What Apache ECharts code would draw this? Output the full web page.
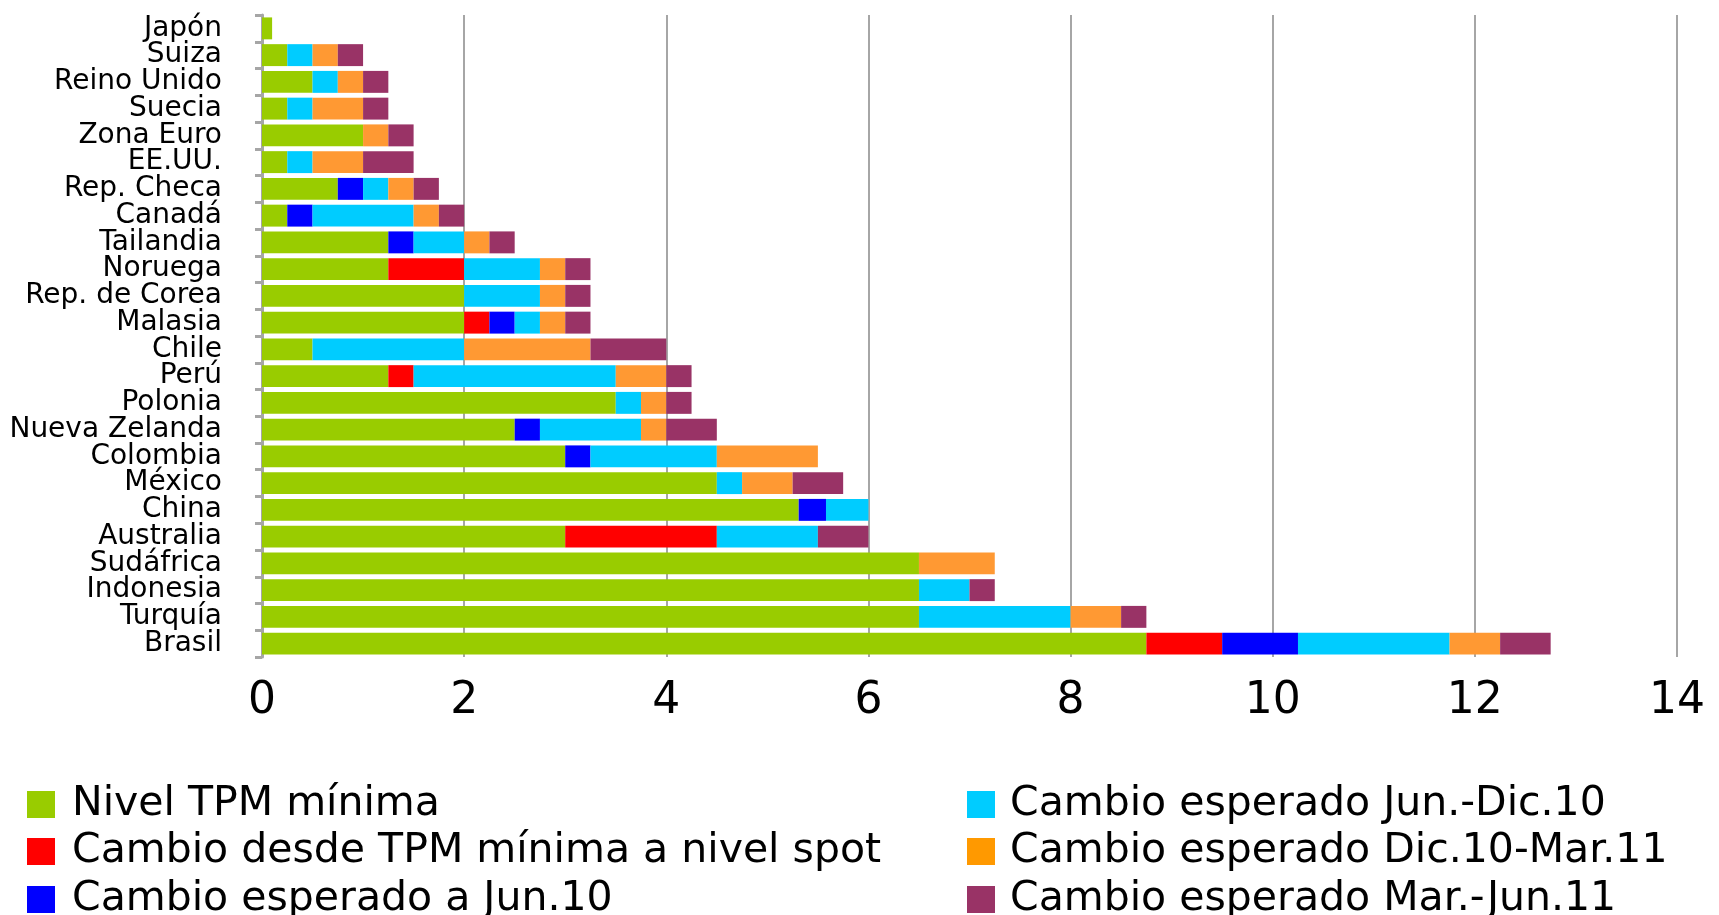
<!DOCTYPE html>
<html>
<head>
<meta charset="utf-8">
<script src="https://cdn.jsdelivr.net/npm/echarts@6/dist/echarts.min.js"></script>
<style>
  html, body { margin: 0; padding: 0; background: #ffffff; }
  #chart { width: 1719px; height: 915px; }
</style>
</head>
<body>
<div id="chart"></div>
<script>
// Countries, top to bottom
const countries = ['Japón', 'Suiza', 'Reino Unido', 'Suecia', 'Zona Euro', 'EE.UU.', 'Rep. Checa', 'Canadá',
  'Tailandia', 'Noruega', 'Rep. de Corea', 'Malasia', 'Chile', 'Perú', 'Polonia', 'Nueva Zelanda',
  'Colombia', 'México', 'China', 'Australia', 'Sudáfrica', 'Indonesia', 'Turquía', 'Brasil'];

// Policy rate components (percentage points)
const nivelMinimo  = [0.1, 0.25, 0.5, 0.25, 1.0, 0.25, 0.75, 0.25, 1.25, 1.25, 2.0, 2.0, 0.5, 1.25, 3.5, 2.5, 3.0, 4.5, 5.31, 3.0, 6.5, 6.5, 6.5, 8.75];
const cambioSpot   = [0, 0, 0, 0, 0, 0, 0, 0, 0, 0.75, 0, 0.25, 0, 0.25, 0, 0, 0, 0, 0, 1.5, 0, 0, 0, 0.75];
const cambioJun10  = [0, 0, 0, 0, 0, 0, 0.25, 0.25, 0.25, 0, 0, 0.25, 0, 0, 0, 0.25, 0.25, 0, 0.27, 0, 0, 0, 0, 0.75];
const cambioJunDic = [0, 0.25, 0.25, 0.25, 0, 0.25, 0.25, 1.0, 0.5, 0.75, 0.75, 0.25, 1.5, 2.0, 0.25, 1.0, 1.25, 0.25, 0.42, 1.0, 0, 0.5, 1.5, 1.5];
const cambioDicMar = [0, 0.25, 0.25, 0.5, 0.25, 0.5, 0.25, 0.25, 0.25, 0.25, 0.25, 0.25, 1.25, 0.5, 0.25, 0.25, 1.0, 0.5, 0, 0, 0.75, 0, 0.5, 0.5];
const cambioMarJun = [0, 0.25, 0.25, 0.25, 0.25, 0.5, 0.25, 0.25, 0.25, 0.25, 0.25, 0.25, 0.75, 0.25, 0.25, 0.5, 0, 0.5, 0, 0.5, 0, 0.25, 0.25, 0.5];

const seriesNames = ['Nivel TPM mínima', 'Cambio desde TPM mínima a nivel spot', 'Cambio esperado a Jun.10',
  'Cambio esperado Jun.-Dic.10', 'Cambio esperado Dic.10-Mar.11', 'Cambio esperado Mar.-Jun.11'];
const seriesData = [nivelMinimo, cambioSpot, cambioJun10, cambioJunDic, cambioDicMar, cambioMarJun];
const colors = ['#99CC00', '#FF0000', '#0000FF', '#00CCFF', '#FF9933', '#993366'];
const legendColors = ['#99CC00', '#FF0000', '#0000FF', '#00CCFF', '#FF9900', '#993366'];

const FONT = 'DejaVu Sans';
const chart = echarts.init(document.getElementById('chart'), null, { renderer: 'canvas' });

// Legend in two columns of three rows, one legend block per entry
const legendCols = [27, 967];
const legendTextGap = [12, 10];
const legendRows = [784, 831, 879];
const legends = seriesNames.map((name, i) => {
  const col = Math.floor(i / 3);
  return {
    left: legendCols[col],
    top: legendRows[i % 3],
    data: [{ name: name, itemStyle: { color: legendColors[i] } }],
    icon: 'rect',
    itemWidth: 28,
    itemHeight: 27,
    padding: 0,
    textStyle: { fontFamily: FONT, fontSize: 41, color: '#000', lineHeight: 27, padding: [0, 0, 9, legendTextGap[col]] }
  };
});

chart.setOption({
  animation: false,
  color: colors,
  grid: { left: 262, right: 42, top: 15, bottom: 258, containLabel: false },
  legend: legends,
  xAxis: {
    type: 'value',
    min: 0,
    max: 14,
    interval: 2,
    axisLine: { show: false },
    axisTick: { show: false },
    splitLine: { show: true, lineStyle: { color: '#a6a6a6', width: 2 } },
    axisLabel: { fontFamily: FONT, fontSize: 44, color: '#000', margin: 23 }
  },
  yAxis: {
    type: 'category',
    inverse: true,
    data: countries,
    axisLine: { show: true, lineStyle: { color: '#a6a6a6', width: 3 } },
    axisTick: { show: true, length: 7, lineStyle: { color: '#a6a6a6', width: 3 } },
    axisLabel: { interval: 0, fontFamily: FONT, fontSize: 28, color: '#000', margin: 40, lineHeight: 26 }
  },
  series: seriesNames.map((name, i) => ({
    name: name,
    type: 'bar',
    stack: 'tpm',
    barCategoryGap: '18%',
    itemStyle: { color: colors[i] },
    data: seriesData[i]
  }))
});
</script>
</body>
</html>
